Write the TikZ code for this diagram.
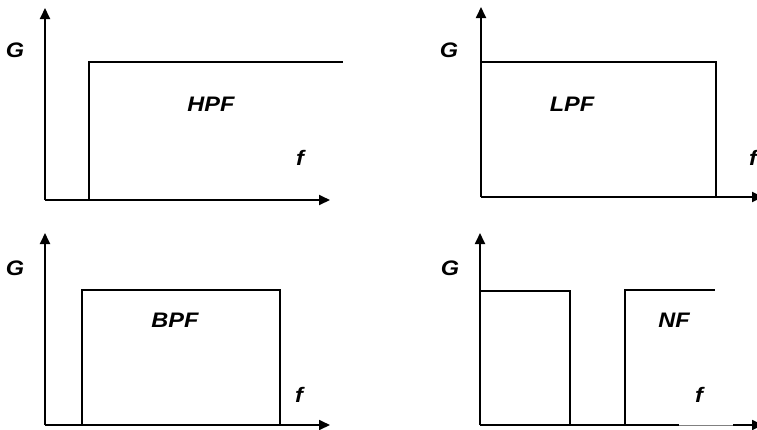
\documentclass[tikz,border=0pt]{standalone}
\usepackage{fontspec}
\setmainfont[FakeStretch=1.12]{Liberation Sans}
\usetikzlibrary{arrows.meta}

\tikzset{
    axis/.style={line width=1.8pt, -{Triangle[length=11pt, width=10pt]}},
    band/.style={line width=1.2pt},
    lbl/.style={inner sep=0pt, font=\fontsize{21}{25}\selectfont\bfseries\itshape}
}

\begin{document}
\begin{tikzpicture}[x=1pt, y=-1pt]
                \useasboundingbox (0,0) rectangle (757,429);
                \clip (0,0) rectangle (757,429);
                
                % HPF
                \coordinate (o1) at (45,200);
                \draw[axis] (o1) -- (45,8);
                \draw[axis] (o1) -- (330,200);
                \draw[band] (89,200) -- (89,62) -- (343,62);
                \node[lbl] (g1) at (15,50) {G};
                \node[lbl] (hpf) at (211,104) {HPF};
                \node[lbl] (f1) at (300,158) {f};
                
                % LPF
                \coordinate (o2) at (481,197);
                \draw[axis] (o2) -- (481,7);
                \draw[axis] (o2) -- (763,197);
                \draw[band] (o2) -- (481,62) -- (716,62) -- (716,197);
                \node[lbl] (g2) at (449,50) {G};
                \node[lbl] (lpf) at (572,104) {LPF};
                \node[lbl] (f2) at (753,158) {f};
                
                % BPF
                \coordinate (o3) at (45,425);
                \draw[axis] (o3) -- (45,233);
                \draw[axis] (o3) -- (330,425);
                \draw[band] (82,425) -- (82,290) -- (280,290) -- (280,425);
                \node[lbl] (g3) at (15,268) {G};
                \node[lbl] (bpf) at (175,320) {BPF};
                \node[lbl] (f3) at (299,395) {f};
                
                % NF, x-as met dunner stuk
                \coordinate (o4) at (480,425);
                \coordinate (a4) at (679,425);
                \coordinate (b4) at (733,425);
                \draw[axis] (o4) -- (480,233);
                \draw[line width=1.8pt] (o4) -- (a4);
                \draw[line width=0.8pt, gray] (a4) -- (b4);
                \draw[axis] (b4) -- (763,425);
                \draw[band] (o4) -- (480,291) -- (570,291) -- (570,425);
                \draw[band] (625,425) -- (625,290) -- (715,290);
                \node[lbl] (g4) at (450,268) {G};
                \node[lbl] (nf) at (674,320) {NF};
                \node[lbl] (f4) at (699,395) {f};
                \end{tikzpicture}
\end{document}
